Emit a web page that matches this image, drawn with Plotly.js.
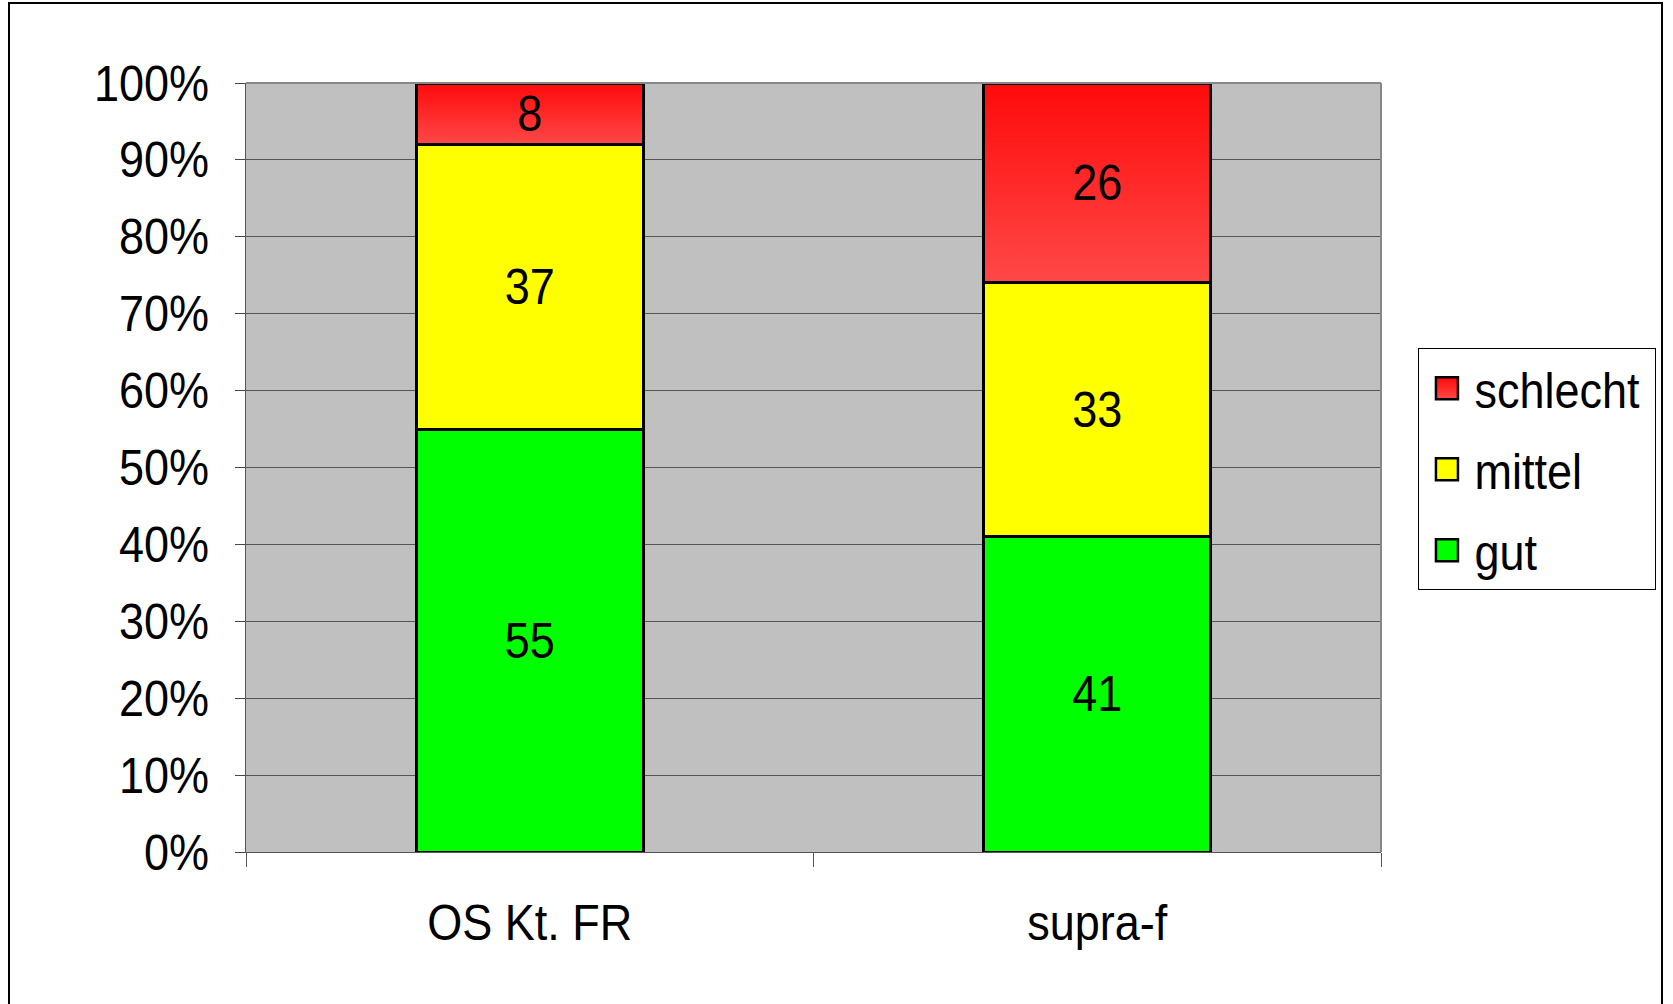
<!DOCTYPE html>
<html>
<head>
<meta charset="utf-8">
<script src="https://cdn.plot.ly/plotly-3.0.1.min.js"></script>
<style>
  html, body { margin: 0; padding: 0; background: #fff; }
  #frame { position: absolute; left: 8px; top: 2px; width: 1655px; height: 1010px; border: 2px solid #000; box-sizing: border-box; pointer-events: none; }
  #chart { position: absolute; left: 0; top: 0; width: 1673px; height: 1004px; }
  #defs { position: absolute; width: 0; height: 0; }
</style>
</head>
<body>
<svg id="defs" xmlns="http://www.w3.org/2000/svg">
  <defs>
    <linearGradient id="redgrad" x1="0" y1="0" x2="0" y2="1">
      <stop offset="0" stop-color="#ff0a0a"/>
      <stop offset="1" stop-color="#ff4848"/>
    </linearGradient>
  </defs>
</svg>
<div id="chart"></div>
<div id="frame"></div>
<script>
const categories = ["OS Kt. FR", "supra-f"];
const gut = [55, 41];
const mittel = [37, 33];
const schlecht = [8, 26];
const yTickVals = [0, 10, 20, 30, 40, 50, 60, 70, 80, 90, 100];

const FONT = '"Liberation Sans", Arial, sans-serif';
const FS = 50;

function barTrace(name, vals, color, rank) {
  return {
    type: 'bar',
    name: name,
    legendgroup: name,
    legendrank: rank,
    x: categories,
    y: vals,
    width: 0.4,
    text: vals.map(String),
    texttemplate: '%{text}',
    textposition: 'inside',
    insidetextanchor: 'middle',
    textangle: 0,
    constraintext: 'none',
    textfont: { family: FONT, size: FS, color: '#000' },
    marker: { color: color, line: { color: '#000', width: 3 } },
    hoverinfo: 'skip'
  };
}

const data = [
  barTrace('gut', gut, '#00ff00', 3),
  barTrace('mittel', mittel, '#ffff00', 2),
  barTrace('schlecht', schlecht, '#ff3030', 1)
];

const layout = {
  width: 1673,
  height: 1004,
  barmode: 'stack',
  paper_bgcolor: 'rgba(0,0,0,0)',
  plot_bgcolor: '#c0c0c0',
  margin: { l: 246, r: 292, t: 83, b: 152, pad: 0, autoexpand: false },
  font: { family: FONT, size: FS, color: '#000' },
  showlegend: true,
  legend: {
    x: 1.033, xanchor: 'left',
    y: 0.655, yanchor: 'top',
    traceorder: 'grouped',
    bgcolor: '#fff',
    bordercolor: '#000',
    borderwidth: 1,
    font: { family: FONT, size: FS, color: '#000' },
    itemwidth: 45,
    tracegroupgap: 13
  },
  xaxis: {
    type: 'category',
    range: [-0.5, 1.5],
    tickson: 'boundaries',
    ticks: 'outside',
    ticklen: 14,
    tickcolor: '#555',
    tickwidth: 1,
    showline: true,
    linecolor: '#555',
    linewidth: 1,
    showgrid: false,
    ticklabelstandoff: 27,
    tickfont: { family: FONT, size: FS, color: '#000' }
  },
  yaxis: {
    range: [0, 100],
    tickvals: yTickVals,
    ticktext: yTickVals.map(v => v + '%'),
    ticks: 'outside',
    ticklen: 10,
    tickcolor: '#444',
    tickwidth: 1,
    showline: true,
    linecolor: '#555',
    linewidth: 1,
    showgrid: true,
    gridcolor: '#555',
    gridwidth: 1,
    zeroline: false,
    ticklabelstandoff: 16,
    tickfont: { family: FONT, size: FS, color: '#000' }
  },
  shapes: [
    { type: 'line', xref: 'paper', yref: 'paper', x0: 1, x1: 1, y0: 0, y1: 1, line: { color: '#888', width: 2 } },
    { type: 'line', xref: 'paper', yref: 'paper', x0: 0, x1: 1, y0: 1, y1: 1, line: { color: '#888', width: 2 } }
  ]
};

Plotly.newPlot('chart', data, layout, { displayModeBar: false, staticPlot: true }).then(gd => {
  // red gradient on the "schlecht" bars
  const barTraces = gd.querySelectorAll('.barlayer .trace');
  if (barTraces[2]) {
    barTraces[2].querySelectorAll('.point path').forEach(p => { p.style.fill = 'url(#redgrad)'; });
  }
  // bigger legend symbols
  gd.querySelectorAll('.legend .legendpoints path').forEach(p => {
    p.setAttribute('d', 'M11,11H-11V-11H11Z');
    p.style.strokeWidth = '2.5px';
    p.style.stroke = '#000';
  });
  gd.querySelectorAll('.legend .traces').forEach(t => {
    const txt = t.querySelector('.legendtext');
    if (txt && txt.textContent === 'schlecht') {
      t.querySelectorAll('.legendpoints path').forEach(p => { p.style.fill = 'url(#redgrad)'; });
    }
  });
  // narrow the text horizontally (reference uses a condensed face)
  gd.querySelectorAll('text').forEach(t => {
    const x = parseFloat(t.getAttribute('x') || '0');
    const y = parseFloat(t.getAttribute('y') || '0');
    const tr = t.getAttribute('transform') || '';
    t.setAttribute('transform', tr + ' translate(' + x + ',' + y + ') scale(0.9,1) translate(' + (-x) + ',' + (-y) + ')');
  });
  // tighten the legend box to the narrowed text
  const bg = gd.querySelector('.legend .bg');
  if (bg) {
    const w = parseFloat(bg.getAttribute('width'));
    if (!isNaN(w)) bg.setAttribute('width', w - 8);
  }
});
</script>
</body>
</html>
